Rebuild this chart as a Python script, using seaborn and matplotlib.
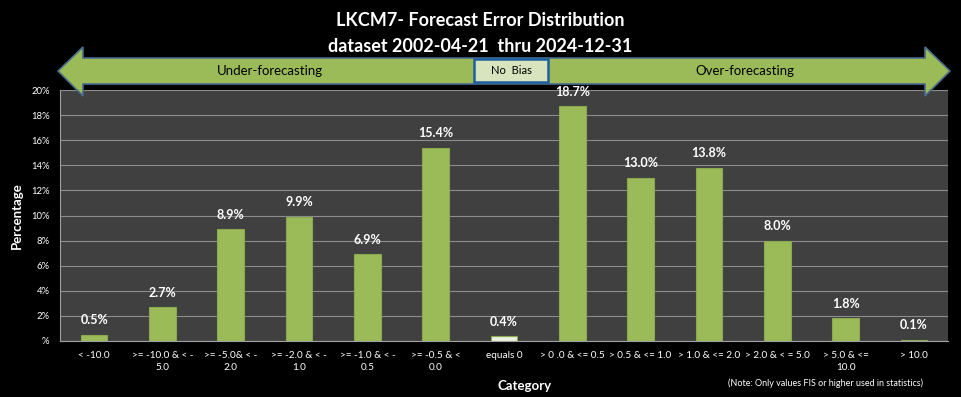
import numpy as np
import pandas as pd
import matplotlib
matplotlib.use("Agg")
import matplotlib.pyplot as plt
import matplotlib.ticker as mticker
from matplotlib.patches import Polygon, Rectangle
import seaborn as sns

# ── Data ─────────────────────────────────────────────────────────────────────

categories = [
    "< -10.0", ">= -10.0 & < -\n5.0", ">= -5.0& < -\n2.0", ">= -2.0 & < -\n1.0",
    ">= -1.0 & < -\n0.5", ">= -0.5 & <\n0.0", "equals 0", "> 0 .0 & <= 0.5",
    "> 0.5 & <= 1.0", "> 1.0 & <= 2.0", "> 2.0 & < = 5.0", "> 5.0 & <=\n10.0",
    "> 10.0",
]
percentages = [0.5, 2.7, 8.9, 9.9, 6.9, 15.4, 0.4, 18.7, 13.0, 13.8, 8.0, 1.8, 0.1]

title_lines = ["LKCM7- Forecast Error Distribution", "dataset 2002-04-21  thru 2024-12-31"]
note_text = "(Note: Only values FIS or higher used in statistics)"

GREEN = "#9BBB59"
PALE = "#EBF1DE"

# ── Plot ─────────────────────────────────────────────────────────────────────

sns.set_style("dark")
plt.rcParams["font.family"] = ["Lato", "DejaVu Sans"]

df = pd.DataFrame({"Category": categories, "Percentage": percentages})
colors = [PALE if c == "equals 0" else GREEN for c in categories]

fig = plt.figure(figsize=(9.61, 3.97), dpi=100, facecolor="black")
ax = fig.add_axes([60 / 961, 1 - 341 / 397, 888 / 961, 251 / 397])
ax.set_facecolor("#404040")

sns.barplot(data=df, x="Category", y="Percentage", hue="Category",
            palette=colors, saturation=1, legend=False, width=0.39, ax=ax,
            edgecolor="#8AA84E", linewidth=0.8)

for i, v in enumerate(percentages):
    ax.text(i, v + 1.15, f"{v:.1f}%", ha="center", va="center",
            color="white", fontsize=9, fontweight="bold")

ax.set_ylim(0, 20)
ax.set_xlim(-0.5, len(categories) - 0.5)
ax.yaxis.set_major_locator(mticker.MultipleLocator(2))
ax.yaxis.set_major_formatter(mticker.FuncFormatter(lambda v, _: "%" if v == 0 else f"{v:.0f}%"))
ax.grid(axis="y", color="#8C8C8C", linewidth=0.8)
ax.grid(axis="x", visible=False)
ax.set_axisbelow(True)

ax.set_xticks(np.arange(len(categories)))
ax.set_xticklabels(categories, fontsize=7.2, color="white", linespacing=1.5)
ax.set_xticks(np.arange(len(categories) + 1) - 0.5, minor=True)
ax.tick_params(axis="x", which="major", length=0, pad=7)
ax.tick_params(axis="x", which="minor", length=4, color="#A0A0A0", direction="out")
ax.tick_params(axis="y", labelsize=6.8, colors="white", length=4, color="#A0A0A0", direction="out")

for side in ["top", "right"]:
    ax.spines[side].set_visible(False)
for side in ["left", "bottom"]:
    ax.spines[side].set_color("#A0A0A0")
    ax.spines[side].set_linewidth(0.8)

ax.set_ylabel("Percentage", color="white", fontsize=9.5, fontweight="bold", labelpad=6)
ax.set_xlabel("")
fig.text(525 / 961, 1 - 386 / 397, "Category", color="white", fontsize=9.5,
         fontweight="bold", ha="center", va="center")
fig.text(825 / 961, 1 - 383 / 397, note_text, color="white", fontsize=6.5,
         ha="center", va="center")

# ── Title ────────────────────────────────────────────────────────────────────

fig.text(0.5, 1 - 21 / 397, title_lines[0], color="white", fontsize=13,
         fontweight="bold", ha="center", va="center")
fig.text(0.5, 1 - 46 / 397, title_lines[1], color="white", fontsize=13,
         fontweight="bold", ha="center", va="center")

# ── Bias arrow ───────────────────────────────────────────────────────────────

W, H = 961, 397
def px(x, y):
    return (x / W, 1 - y / H)

arrow_pts = [px(58, 71), px(83, 47), px(83, 58), px(925, 58), px(925, 47),
             px(950, 71), px(925, 96), px(925, 84), px(83, 84), px(83, 96)]
fig.patches.append(Polygon(arrow_pts, closed=True, transform=fig.transFigure,
                           facecolor=GREEN, edgecolor="#4A6A8C", linewidth=1.2,
                           zorder=5))
x0, y0 = px(474, 82)
x1, y1 = px(548, 59)
fig.patches.append(Rectangle((x0, y0), x1 - x0, y1 - y0, transform=fig.transFigure,
                             facecolor="#D7E4BD", edgecolor="#1F5FA0", linewidth=1.8,
                             zorder=6))
fig.text((x0 + x1) / 2, (y0 + y1) / 2, "No  Bias", fontsize=8, color="black",
         ha="center", va="center", zorder=7)
fig.text(*px(270, 71), "Under-forecasting", fontsize=9.5, color="black",
         ha="center", va="center", zorder=7)
fig.text(*px(745, 71), "Over-forecasting", fontsize=9.5, color="black",
         ha="center", va="center", zorder=7)

fig.savefig("out.png", dpi=100, facecolor="black")
